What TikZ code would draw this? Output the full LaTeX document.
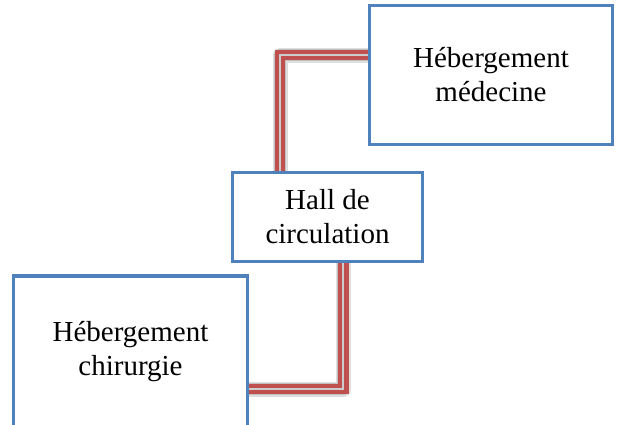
\documentclass[tikz,border=0pt]{standalone}
\usepackage{fontspec}
\setmainfont{Liberation Serif}
\usetikzlibrary{calc}
\definecolor{boxblue}{HTML}{4F81BD}
\definecolor{linkred}{HTML}{C0504D}
\begin{document}
\begin{tikzpicture}[x=1pt,y=-1pt,
  room/.style={draw=boxblue, line width=3.3pt, fill=white, rectangle,
    align=center, inner sep=0pt, font=\fontsize{29}{34}\selectfont},
  link/.style={draw=linkred, line width=4.2pt, double=black!20,
    double distance=2pt},
  linkshadow/.style={draw=black, line width=#1, opacity=0.13,
    line join=round, xshift=2.5pt, yshift=-3pt}]
\useasboundingbox (0,0) rectangle (618,425);
\clip (0,0) rectangle (618,425);

% rooms
\node[room, minimum width=242.5pt, minimum height=139pt] (med) at (491,75)
  {Hébergement\\médecine};
\node[room, minimum width=190pt, minimum height=88.5pt] (hall) at (327.5,217)
  {Hall de\\circulation};
\node[room, minimum width=234.5pt, minimum height=152pt] (chir) at (130.5,352)
  {Hébergement\\chirurgie};

% attachment points of the corridors
\coordinate (m1) at ($(med.north west)!0.361!(med.south west)$);
\coordinate (h1) at ($(hall.north west)!0.255!(hall.north east)$);
\coordinate (h2) at ($(hall.south west)!0.582!(hall.south east)$);
\coordinate (c2) at ($(chir.north east)!0.739!(chir.south east)$);

% soft shadows under the corridors
\foreach \w in {15pt,12pt,9pt}{
  \draw[linkshadow=\w] (m1) -| (h1);
  \draw[linkshadow=\w] (h2) |- (c2);
}

% corridors
\draw[link] (m1) -| (h1);
\draw[link] (h2) |- (c2);
\end{tikzpicture}
\end{document}
